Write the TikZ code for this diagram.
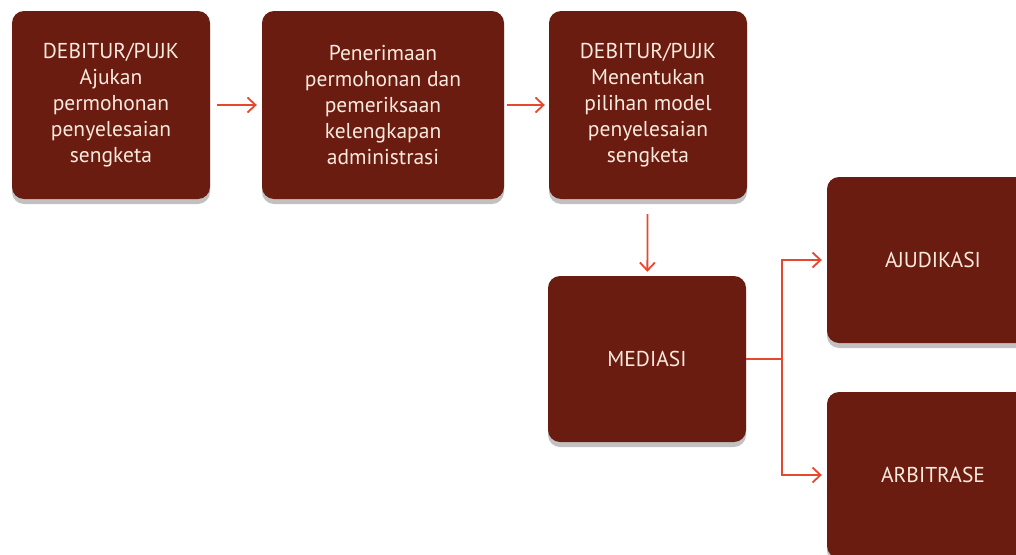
\documentclass[tikz,border=0pt]{standalone}
\usepackage{fontspec}
\setmainfont{PT Sans}
\usetikzlibrary{arrows.meta,shadows,calc}
\definecolor{boxfill}{RGB}{107,28,17}
\definecolor{arrowred}{RGB}{231,72,45}
\definecolor{boxtext}{RGB}{250,234,222}
\begin{document}
\begin{tikzpicture}[x=1pt,y=-1pt,
  stepbox/.style={rectangle, rounded corners=12pt, fill=boxfill, text=boxtext,
    align=center, inner sep=0pt,
    font=\fontsize{21.5}{26}\selectfont,
    drop shadow={shadow xshift=0pt, shadow yshift=-5pt, opacity=.3, fill=black!80}},
  flow/.style={draw=arrowred, line width=1.8pt,
    -{Straight Barb[length=8pt,width=15pt,line width=1.8pt]}}
]
\useasboundingbox (0,0) rectangle (1016,554);
\clip (0,0) rectangle (1016,554);

% top row
\node[stepbox, minimum width=198pt, minimum height=188pt] (ajukan) at (111,105)
  {DEBITUR/PUJK\\Ajukan\\permohonan\\penyelesaian\\sengketa};
\node[stepbox, minimum width=242pt, minimum height=188pt] (terima) at (383,105)
  {Penerimaan\\permohonan dan\\pemeriksaan\\kelengkapan\\administrasi};
\node[stepbox, minimum width=198pt, minimum height=188pt] (pilih) at (648,105)
  {DEBITUR/PUJK\\Menentukan\\pilihan model\\penyelesaian\\sengketa};

% dispute resolution options
\node[stepbox, minimum width=198pt, minimum height=166pt] (mediasi) at (647,359) {MEDIASI};
\node[stepbox, minimum width=212pt, minimum height=166pt] (ajudikasi) at (933,260) {AJUDIKASI};
\node[stepbox, minimum width=212pt, minimum height=166pt] (arbitrase) at (933,475) {ARBITRASE};

% connectors
\draw[flow, shorten <=7pt, shorten >=5pt] (ajukan) -- (terima);
\draw[flow, shorten <=3pt, shorten >=4pt] (terima) -- (pilih);
\draw[flow, shorten <=15pt, shorten >=4pt] (pilih) -- (mediasi);
\coordinate (split) at ($(mediasi.east)+(36,0)$);
\draw[draw=arrowred, line width=1.8pt] (mediasi.east) -- (split);
\draw[flow, shorten >=5pt] (split) |- (ajudikasi.west);
\draw[flow, shorten >=5pt] (split) |- (arbitrase.west);
\end{tikzpicture}
\end{document}
